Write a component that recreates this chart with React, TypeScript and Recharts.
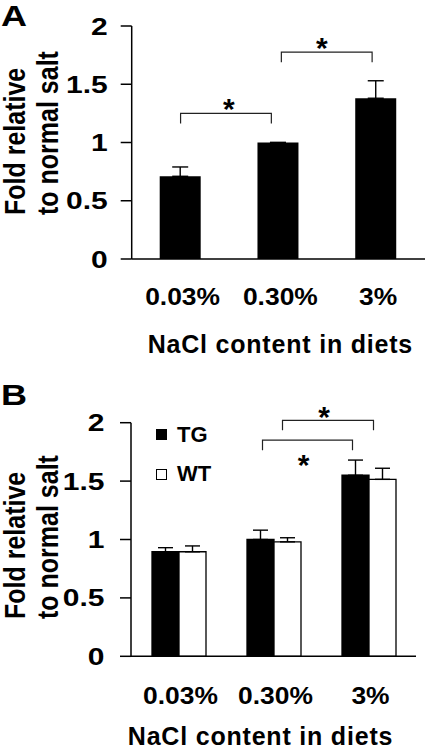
import React from 'react';
import { BarChart, Bar, XAxis, YAxis, ErrorBar, ReferenceLine, Legend } from 'recharts';

const FONT = '"Liberation Sans", Arial, Helvetica, sans-serif';

// categories and axis ticks
const categories = ['0.03%', '0.30%', '3%'];
const yTicks = [0, 0.5, 1, 1.5, 2];

// panel A: fold change, upper error
const foldA = [0.71, 1.0, 1.38];
const semA = [0.08, 0, 0.15];

// panel B: TG vs WT
const foldTG = [0.895, 1.0, 1.55];
const semTG = [0.035, 0.08, 0.13];
const foldWT = [0.895, 0.98, 1.515];
const semWT = [0.05, 0.035, 0.095];

// significance brackets (category pair + height in data units)
const bracketsA = [
  { from: '0.03%', to: '0.30%', level: 1.25 },
  { from: '0.30%', to: '3%', level: 1.775 },
];
const bracketsB = [
  { from: '0.30%', to: '3%', level: 2.02 },
  { from: '0.30%', to: '3%', level: 1.85 },
];

// pixel tweaks for the brackets, in the same order as above
const bracketLookA = [
  { dx1: 0, dx2: -7, starDx: 3, starDy: -11 },
  { dx1: 3, dx2: -4, starDx: -5, starDy: -11 },
];
const bracketLookB = [
  { dx1: 9, dx2: 5, starDx: -4, starDy: -10 },
  { dx1: -11, dx2: -16, starDx: -4, starDy: 18 },
];

const dataA = categories.map((cat, i) => ({ cat, fold: foldA[i], err: [0, semA[i]] }));
const dataB = categories.map((cat, i) => ({
  cat,
  TG: foldTG[i],
  WT: foldWT[i],
  errTG: [0, semTG[i]],
  errWT: [0, semWT[i]],
}));

const XTick = (props: any) => {
  const { x, y, payload } = props;
  return (
    <text
      transform={`translate(${x + 2},${y + 17}) scale(1.1,1)`}
      textAnchor="middle"
      fontSize={24}
      fontWeight="bold"
      fontFamily={FONT}
      fill="#000"
    >
      {payload.value}
    </text>
  );
};

const YTick = (props: any) => {
  const { x, y, payload } = props;
  return (
    <text
      transform={`translate(${x},${y + 8.5}) scale(1.25,1)`}
      textAnchor="end"
      fontSize={24}
      fontWeight="bold"
      fontFamily={FONT}
      fill="#000"
    >
      {payload.value}
    </text>
  );
};

const Bracket = (props: any) => {
  const { x1, y1, x2, dx1, dx2, starDx, starDy } = props;
  const a = x1 + dx1;
  const b = x2 + dx2;
  const fs = 30;
  return (
    <g>
      <path d={`M${a},${y1 + 10}V${y1}H${b}V${y1 + 10}`} fill="none" stroke="#222" strokeWidth={1.2} />
      <text
        x={(a + b) / 2 + starDx}
        y={y1 + starDy + fs * 0.56}
        textAnchor="middle"
        fontSize={fs}
        fontWeight="bold"
        fontFamily={FONT}
        fill="#000"
      >
        *
      </text>
    </g>
  );
};

const YTitle = (props: any) => {
  const { startY } = props;
  const t = (x: number) => `translate(${x},${startY}) scale(1.15,1) rotate(-90)`;
  const style = { fontSize: 25, fontWeight: 'bold', fontFamily: FONT, fill: '#000' } as any;
  return (
    <g>
      <text transform={t(25)} textAnchor="start" style={style}>Fold relative</text>
      <text transform={t(58)} textAnchor="start" style={style}>to normal salt</text>
    </g>
  );
};

const XTitle = (props: any) => {
  const { viewBox, dx, dy } = props;
  return (
    <text
      x={viewBox.x + viewBox.width / 2 + dx}
      y={viewBox.y + dy}
      textAnchor="middle"
      fontSize={25}
      fontWeight="bold"
      fontFamily={FONT}
      letterSpacing={0.8}
      fill="#000"
    >
      NaCl content in diets
    </text>
  );
};

const LegendBox = (props: any) => (
  <div style={{ fontFamily: FONT, fontWeight: 'bold', fontSize: 22, color: '#000' }}>
    {(props.payload || []).map((p: any) => (
      <div key={p.value} style={{ display: 'flex', alignItems: 'center', height: 39.5 }}>
        <span
          style={{
            display: 'inline-block',
            width: 9,
            height: 9,
            background: p.color,
            border: '1px solid #000',
            marginRight: 10,
          }}
        />
        <span>{p.value}</span>
      </div>
    ))}
  </div>
);

// letter baseline sits 30px into its little svg, so the font box is not clipped
const PanelLetter = ({ letter, top }: { letter: string; top: number }) => (
  <svg width={44} height={44} style={{ position: 'absolute', left: 0, top: top - 6 }}>
    <text transform="translate(1,30) scale(1.2,1)" fontSize={30} fontWeight="bold" fontFamily={FONT} fill="#000">
      {letter}
    </text>
  </svg>
);

const axisStroke = { stroke: '#000', strokeWidth: 1.5 };

const App: React.FC = () => {
  return (
    <div style={{ position: 'absolute', left: 0, top: 0, width: 426, height: 750, background: '#fff' }}>
      <div style={{ position: 'absolute', left: 0, top: 0 }}>
        <BarChart width={426} height={375} data={dataA} margin={{ top: 26, right: 1, left: 0, bottom: 0 }}>
          <XAxis
            dataKey="cat"
            tickLine={false}
            axisLine={axisStroke}
            tickSize={0}
            tickMargin={28.6}
            height={116}
            tick={<XTick />}
            interval={0}
            label={<XTitle dx={2} dy={94} />}
          />
          <YAxis
            type="number"
            domain={[0, 2]}
            ticks={yTicks}
            interval={0}
            tickSize={11}
            tickMargin={13}
            width={131.7}
            axisLine={axisStroke}
            tickLine={axisStroke}
            tick={<YTick />}
            label={<YTitle startY={215} />}
          />
          <Bar dataKey="fold" fill="#000" barSize={41} isAnimationActive={false}>
            <ErrorBar dataKey="err" width={8} stroke="#000" strokeWidth={1.4} direction="y" />
          </Bar>
          {bracketsA.map((b, i) => (
            <ReferenceLine
              key={`a${i}`}
              ifOverflow="visible"
              segment={[{ x: b.from, y: b.level }, { x: b.to, y: b.level }]}
              shape={(p: any) => <Bracket {...p} {...bracketLookA[i]} />}
            />
          ))}
        </BarChart>
      </div>
      <div style={{ position: 'absolute', left: 0, top: 375 }}>
        <BarChart
          width={426}
          height={375}
          data={dataB}
          barGap={0}
          margin={{ top: 47.7, right: 10, left: 0, bottom: 0 }}
        >
          <XAxis
            dataKey="cat"
            tickLine={false}
            axisLine={axisStroke}
            tickSize={0}
            tickMargin={30.4}
            height={93.7}
            tick={<XTick />}
            interval={0}
            label={<XTitle dx={-13} dy={88.5} />}
          />
          <YAxis
            type="number"
            domain={[0, 2]}
            ticks={yTicks}
            interval={0}
            tickSize={11}
            tickMargin={15.5}
            width={131}
            axisLine={axisStroke}
            tickLine={axisStroke}
            tick={<YTick />}
            label={<YTitle startY={244} />}
          />
          <Legend
            layout="horizontal"
            verticalAlign="middle"
            align="center"
            content={<LegendBox />}
            wrapperStyle={{ left: 156, top: 40, width: 'auto', height: 'auto' }}
          />
          <Bar dataKey="TG" name="TG" fill="#000" stroke="#000" strokeWidth={1.3} barSize={27} isAnimationActive={false}>
            <ErrorBar dataKey="errTG" width={7.5} stroke="#000" strokeWidth={1.4} direction="y" />
          </Bar>
          <Bar dataKey="WT" name="WT" fill="#fff" stroke="#000" strokeWidth={1.3} barSize={27} isAnimationActive={false}>
            <ErrorBar dataKey="errWT" width={7.5} stroke="#000" strokeWidth={1.4} direction="y" />
          </Bar>
          {bracketsB.map((b, i) => (
            <ReferenceLine
              key={`b${i}`}
              ifOverflow="visible"
              segment={[{ x: b.from, y: b.level }, { x: b.to, y: b.level }]}
              shape={(p: any) => <Bracket {...p} {...bracketLookB[i]} />}
            />
          ))}
        </BarChart>
      </div>
      <PanelLetter letter="A" top={2} />
      <PanelLetter letter="B" top={381} />
    </div>
  );
};

export default App;
